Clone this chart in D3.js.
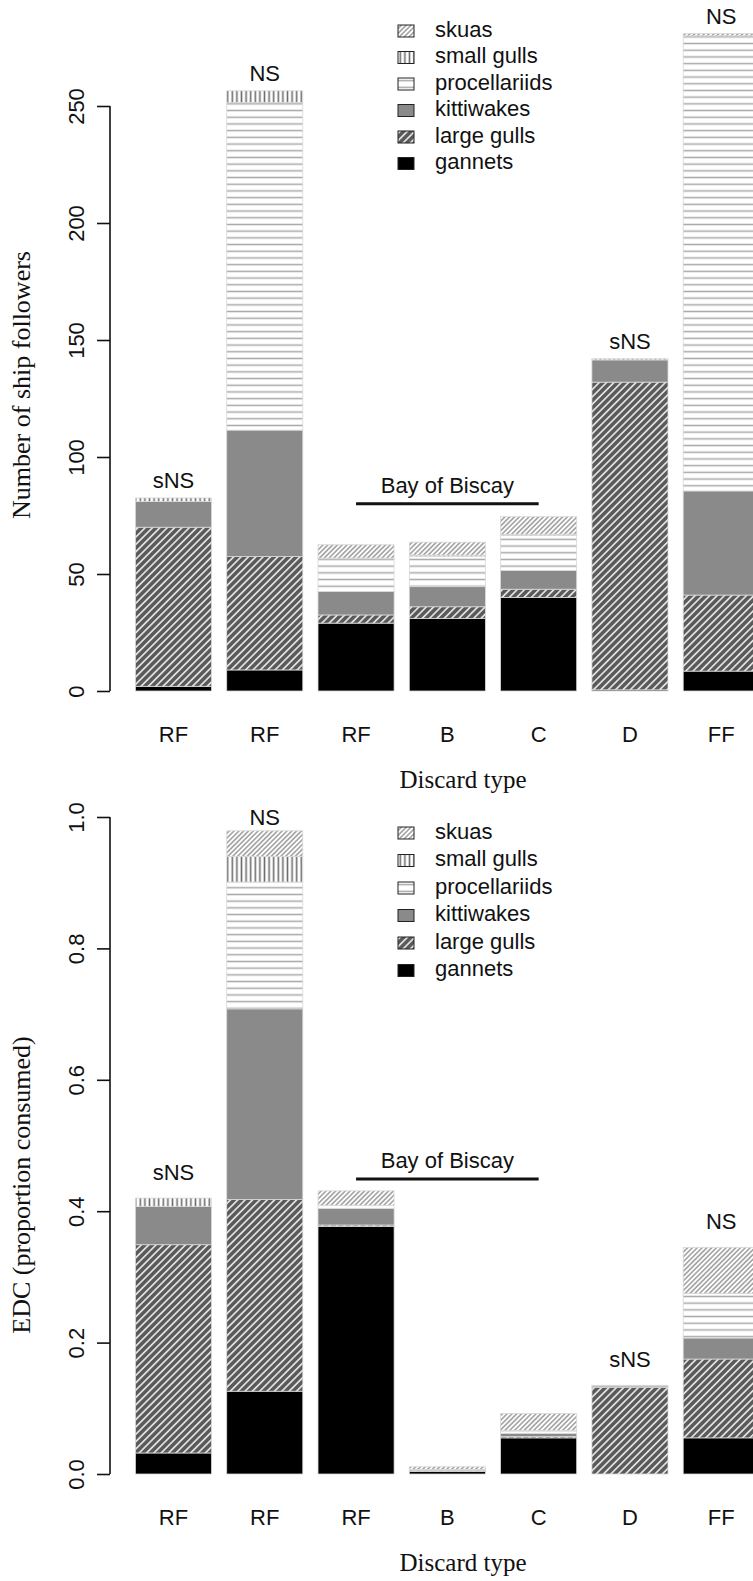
<!DOCTYPE html>
<html>
<head>
<meta charset="utf-8">
<script src="https://cdn.jsdelivr.net/npm/d3@7/dist/d3.min.js"></script>
<style>
  html, body { margin: 0; padding: 0; background: #fff; }
  svg { display: block; }
  text { fill: #111; }
</style>
</head>
<body>
<svg id="chart" width="753" height="1581"></svg>
<script>
// Discard types along the x axis (same order in both panels)
const categories = ["RF", "RF", "RF", "B", "C", "D", "FF"];

// Stack order, bottom to top
const groups = ["gannets", "large gulls", "kittiwakes", "procellariids", "small gulls", "skuas"];
// Legend order, top to bottom
const legendOrder = ["skuas", "small gulls", "procellariids", "kittiwakes", "large gulls", "gannets"];

// Panel 1: number of ship followers per discard type
const followersGannets       = [2,    9,     29,   31,   40,   0.5,  8.5];
const followersLargeGulls    = [68,   48.5,  3.5,  5,    3.5,  131.5, 32.5];
const followersKittiwakes    = [11,   54,    10,   8.6,  8,    9.5,  44.5];
const followersProcellariids = [0,    140,   14,   13,   15,   0,    194.5];
const followersSmallGulls    = [1.5,  5,     0.3,  0.5,  0.5,  0.5,  0];
const followersSkuas         = [0,    0,     5.7,  5.5,  7.5,  0,    1];

// Panel 2: EDC (proportion of discards consumed)
const edcGannets       = [0.032, 0.126, 0.377, 0.004, 0.055, 0,     0.055];
const edcLargeGulls    = [0.317, 0.292, 0.002, 0.001, 0.002, 0.132, 0.120];
const edcKittiwakes    = [0.058, 0.290, 0.025, 0,     0.005, 0.002, 0.032];
const edcProcellariids = [0,     0.193, 0.005, 0.002, 0.004, 0,     0.068];
const edcSmallGulls    = [0.013, 0.039, 0,     0,     0,     0.001, 0];
const edcSkuas         = [0,     0.039, 0.022, 0.004, 0.026, 0,     0.070];

// Significance notes above bars (null = none)
const followersNotes = ["sNS", "NS", null, null, null, "sNS", "NS"];
const edcNotes       = ["sNS", "NS", null, null, null, "sNS", "NS"];

const followersTicks = [0, 50, 100, 150, 200, 250];
const edcTicks = [0, 0.2, 0.4, 0.6, 0.8, 1.0];

const regionLabel = "Bay of Biscay";

const svg = d3.select("#chart");
const defs = svg.append("defs");

// ---- fill patterns ----
function linePattern(id, opts) {
  const p = defs.append("pattern")
    .attr("id", id)
    .attr("patternUnits", "userSpaceOnUse")
    .attr("width", opts.size)
    .attr("height", opts.size);
  if (opts.angle) p.attr("patternTransform", `rotate(${opts.angle})`);
  p.append("rect").attr("width", opts.size).attr("height", opts.size).attr("fill", opts.bg);
  if (opts.vertical) {
    p.append("line").attr("x1", opts.size / 2).attr("x2", opts.size / 2)
      .attr("y1", 0).attr("y2", opts.size)
      .attr("stroke", opts.color).attr("stroke-width", opts.width);
  } else {
    p.append("line").attr("y1", opts.size / 2).attr("y2", opts.size / 2)
      .attr("x1", 0).attr("x2", opts.size)
      .attr("stroke", opts.color).attr("stroke-width", opts.width);
  }
}
linePattern("pat-large", { size: 5.2, angle: 45, vertical: true, bg: "#5a5a5a", color: "#ffffff", width: 1.4 });
linePattern("pat-skua", { size: 3.4, angle: 45, vertical: true, bg: "#ffffff", color: "#8c8c8c", width: 1.3 });
linePattern("pat-small", { size: 4.6, vertical: true, bg: "#ffffff", color: "#6e6e6e", width: 1.6 });
linePattern("pat-proc", { size: 6.7, vertical: false, bg: "#ffffff", color: "#a8a8a8", width: 1.5 });

const fills = {
  "gannets": "#000000",
  "large gulls": "url(#pat-large)",
  "kittiwakes": "#8a8a8a",
  "procellariids": "url(#pat-proc)",
  "small gulls": "url(#pat-small)",
  "skuas": "url(#pat-skua)"
};

const x = d3.scaleBand()
  .domain(d3.range(categories.length))
  .range([120.2, 774.5])
  .paddingInner(0.2 / 1.2)
  .paddingOuter(0.2 / 1.2);

function panel(cfg) {
  const g = svg.append("g");
  const y = d3.scaleLinear().domain(cfg.domain).range([cfg.y0, cfg.y1]);

  const rows = categories.map((c, i) => {
    const r = { idx: i };
    groups.forEach((k, j) => { r[k] = cfg.series[j][i]; });
    return r;
  });
  const stacked = d3.stack().keys(groups)(rows);

  // stacked segments
  g.selectAll("g.layer")
    .data(stacked)
    .join("g")
    .attr("class", "layer")
    .attr("fill", d => fills[d.key])
    .selectAll("rect")
    .data(d => d.filter(s => s[1] - s[0] > 0))
    .join("rect")
    .attr("x", d => x(d.data.idx))
    .attr("width", x.bandwidth())
    .attr("y", d => y(d[1]))
    .attr("height", d => y(d[0]) - y(d[1]))
    .attr("stroke", "#d8d8d8")
    .attr("stroke-width", 0.8);

  // y axis
  const axis = d3.axisLeft(y).tickValues(cfg.ticks).tickSize(13).tickFormat(cfg.fmt);
  const ag = g.append("g").attr("transform", `translate(110,0)`).call(axis);
  ag.select(".domain").attr("d", `M0,${y(cfg.ticks[0])}V${y(cfg.ticks[cfg.ticks.length - 1])}`)
    .attr("stroke", "#111").attr("stroke-width", 1.6);
  ag.selectAll(".tick line").attr("stroke", "#111").attr("stroke-width", 1.6);
  ag.selectAll(".tick text")
    .attr("x", null).attr("dy", null)
    .attr("transform", "translate(-32,0) rotate(-90)")
    .attr("text-anchor", "middle")
    .attr("dominant-baseline", "middle")
    .attr("font-family", "Liberation Sans, Arial, sans-serif")
    .attr("font-size", 22)
    .attr("fill", "#111");

  // category labels
  g.selectAll("text.cat")
    .data(categories)
    .join("text")
    .attr("class", "cat")
    .attr("x", (d, i) => x(i) + x.bandwidth() / 2)
    .attr("y", cfg.y0 + 51)
    .attr("text-anchor", "middle")
    .attr("font-family", "Liberation Sans, Arial, sans-serif")
    .attr("font-size", 22)
    .text(d => d);

  // x title
  g.append("text")
    .attr("x", 463).attr("y", cfg.y0 + 97)
    .attr("text-anchor", "middle")
    .attr("font-family", "Liberation Serif, Times New Roman, serif")
    .attr("font-size", 25)
    .text("Discard type");

  // y title
  g.append("text")
    .attr("transform", `translate(30,${cfg.titleY}) rotate(-90)`)
    .attr("text-anchor", "middle")
    .attr("font-family", "Liberation Serif, Times New Roman, serif")
    .attr("font-size", 26)
    .text(cfg.title);

  // significance notes
  const totals = rows.map(r => d3.sum(groups, k => r[k]));
  g.selectAll("text.note")
    .data(cfg.notes.map((n, i) => ({ n, i })).filter(d => d.n))
    .join("text")
    .attr("class", "note")
    .attr("x", d => x(d.i) + x.bandwidth() / 2)
    .attr("y", d => Math.max(y(totals[d.i]) - cfg.noteGap, y(cfg.noteCap)) + 8)
    .attr("text-anchor", "middle")
    .attr("font-family", "Liberation Sans, Arial, sans-serif")
    .attr("font-size", 22)
    .text(d => d.n);

  // region bracket
  const bx0 = x(2) + x.bandwidth() / 2, bx1 = x(4) + x.bandwidth() / 2;
  g.append("line")
    .attr("x1", bx0).attr("x2", bx1)
    .attr("y1", y(cfg.bracket)).attr("y2", y(cfg.bracket))
    .attr("stroke", "#111").attr("stroke-width", 3);
  g.append("text")
    .attr("x", (bx0 + bx1) / 2).attr("y", y(cfg.bracket) - 11)
    .attr("text-anchor", "middle")
    .attr("font-family", "Liberation Sans, Arial, sans-serif")
    .attr("font-size", 22)
    .text(regionLabel);

  // legend
  const lg = g.append("g").attr("transform", `translate(398,${cfg.legendY})`);
  const item = lg.selectAll("g.item")
    .data(legendOrder)
    .join("g")
    .attr("class", "item")
    .attr("transform", (d, i) => `translate(0,${i * cfg.legendStep})`);
  item.append("rect")
    .attr("x", 0).attr("y", -6).attr("width", 16).attr("height", 12)
    .attr("fill", d => fills[d])
    .attr("stroke", "#222").attr("stroke-width", 1);
  item.append("text")
    .attr("x", 37).attr("y", 0)
    .attr("dominant-baseline", "middle")
    .attr("font-family", "Liberation Sans, Arial, sans-serif")
    .attr("font-size", 22)
    .text(d => d);
}

panel({
  domain: [0, 250], y0: 691, y1: 106,
  series: [followersGannets, followersLargeGulls, followersKittiwakes, followersProcellariids, followersSmallGulls, followersSkuas],
  ticks: followersTicks, fmt: d3.format("d"),
  notes: followersNotes, noteGap: 17.5, noteCap: 1000,
  bracket: 80,
  legendY: 31, legendStep: 26.5,
  title: "Number of ship followers", titleY: 385
});

panel({
  domain: [0, 1], y0: 1474, y1: 817,
  series: [edcGannets, edcLargeGulls, edcKittiwakes, edcProcellariids, edcSmallGulls, edcSkuas],
  ticks: edcTicks, fmt: d3.format(".1f"),
  notes: edcNotes, noteGap: 26, noteCap: 1.0,
  bracket: 0.449,
  legendY: 833, legendStep: 27.5,
  title: "EDC (proportion consumed)", titleY: 1185
});
</script>
</body>
</html>
